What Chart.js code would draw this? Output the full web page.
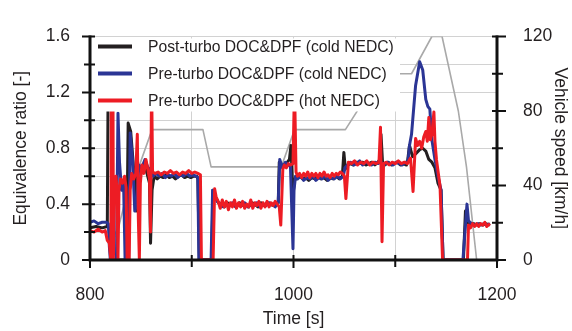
<!DOCTYPE html>
<html>
<head>
<meta charset="utf-8">
<script src="https://cdn.jsdelivr.net/npm/chart.js@4.4.1/dist/chart.umd.min.js"></script>
<style>
  html, body { margin: 0; padding: 0; background: #fff; }
  #wrap { width: 572px; height: 331px; }
</style>
</head>
<body>
<div id="wrap"><canvas id="c" width="572" height="331"></canvas></div>
<script>
// 시간[s], 당량비 — 그림에서 읽은 값
const POST_COLD = [
  [800,.23],[806,.24],[812,.23],[817,.24],[818,1.5],[821,1.5],[822,0],[836,0],[837.5,.98],[840,.92],
  [844,.55],[845.5,.35],[847,.67],[850,.64],[853,.69],[856,.62],[858.5,.55],[859.5,.12],[861,.5],[863,.6],
  [866,.58],[869,.6],[872,.59],[875,.61],[878,.59],[881,.6],[884,.58],[887,.6],[890,.61],[893,.59],
  [896,.6],[899,.59],[902,.6],[905,.6],[906,.58],[907.5,0],[919.5,0],[921,.5],[923,.46],[926,.41],
  [929,.4],[932,.38],[935,.41],[938,.39],[941,.4],[944,.38],[947,.41],[950,.39],[953,.4],[956,.38],
  [959,.41],[962,.4],[965,.38],[968,.41],[971,.39],[974,.41],[977,.4],[980,.39],[983,.4],[985,.41],
  [986,.7],[988,.68],[991,.68],[994,.7],[996,.72],[997.5,.82],[999.5,.45],[1001,.58],[1003,.58],[1006,.6],
  [1009,.58],[1012,.59],[1015,.57],[1018,.59],[1021,.58],[1024,.6],[1027,.58],[1030,.59],[1033,.57],[1036,.59],
  [1039,.58],[1042,.6],[1045,.58],[1048,.6],[1049.5,.77],[1051,.65],[1053,.68],[1056,.69],[1059,.68],[1062,.7],
  [1065,.69],[1068,.7],[1071,.68],[1074,.69],[1077,.7],[1080,.68],[1083,.7],[1085,.72],[1086,.9],[1087.5,.7],
  [1090,.68],[1093,.7],[1096,.68],[1099,.69],[1102,.7],[1105,.68],[1108,.69],[1111,.68],[1112,.7],[1114,.82],
  [1117,.74],[1120,.76],[1124,.79],[1127,.8],[1130,.78],[1133,.72],[1136,.7],[1139,.66],[1142,.55],[1145,.5],
  [1147,0],[1167,0],[1169,.35],[1171,.27],[1174,.25],[1177,.26],[1180,.25],[1183,.26],[1186,.25],[1189,.26],[1193,.25]
];

const PRE_COLD = [
  [800,.27],[804,.28],[808,.26],[812,.27],[816,.27],[818,.26],[819,.1],[820,0],[826,0],[827.5,1.05],
  [829,.7],[831,.5],[833,.55],[834.5,0],[838,0],[839.5,.91],[842,.7],[844,.35],[846,.4],[848,.68],
  [851,.66],[854,.72],[857,.66],[860,.65],[862,.6],[865,.62],[868,.6],[871,.62],[874,.59],[877,.61],
  [880,.6],[883,.62],[886,.59],[889,.61],[892,.6],[895,.62],[898,.6],[901,.61],[904,.6],[906,.59],
  [907,0],[919,0],[920.5,.5],[922,.46],[925,.42],[928,.4],[931,.38],[934,.4],[937,.39],[940,.41],
  [943,.38],[946,.4],[949,.39],[952,.41],[955,.38],[958,.4],[961,.39],[964,.41],[967,.38],[970,.4],
  [973,.39],[976,.41],[979,.4],[982,.38],[985,.41],[986.5,.72],[989,.66],[992,.7],[995,.68],[997,.67],
  [999.5,.08],[1000.5,.5],[1002,.6],[1004,.58],[1007,.6],[1010,.57],[1013,.59],[1016,.58],[1019,.6],[1022,.57],
  [1025,.59],[1028,.58],[1031,.6],[1034,.57],[1037,.59],[1040,.58],[1043,.6],[1046,.58],[1049,.6],[1050.5,.66],
  [1053,.68],[1056,.7],[1059,.68],[1062,.69],[1065,.71],[1068,.68],[1071,.7],[1074,.69],[1077,.68],[1080,.7],
  [1083,.69],[1086,.7],[1089,.68],[1092,.7],[1095,.69],[1098,.68],[1101,.7],[1104,.69],[1107,.68],[1110,.7],
  [1112.5,.7],[1114,.82],[1116,.9],[1120,1.25],[1124,1.42],[1127,1.36],[1130,1.15],[1132,1.1],[1134,1.08],[1136,.86],
  [1139,.72],[1142,.6],[1145,.5],[1147,0],[1166.5,0],[1170.5,.4],[1172,.28],[1175,.26],[1178,.25],[1181,.26],
  [1184,.25],[1187,.26],[1190,.25],[1193,.26]
];

const PRE_HOT = [
  [800,.21],[804,.2],[808,.22],[812,.2],[815,.21],[817,.14],[819,.12],[820.5,0],[821,1.5],[822.5,1.5],
  [823,0],[824,.55],[825.5,.6],[826.5,.5],[827.5,0],[828.5,.5],[830,.58],[832,.55],[834,.6],[835.5,.52],
  [836.5,0],[838.5,0],[839.5,.5],[841,.62],[843,.58],[845,.62],[846.5,.9],[847.5,.3],[848.5,0],[849.5,.55],
  [851,.68],[853,.62],[855,.72],[857,.64],[858.5,.58],[859.5,.2],[860.5,1.3],[861.5,.63],[864,.62],[867,.63],
  [870,.61],[873,.63],[876,.62],[879,.64],[882,.62],[885,.63],[888,.61],[891,.63],[894,.62],[897,.64],
  [900,.62],[903,.63],[906,.62],[908.5,.61],[909.5,0],[921,0],[922.5,.51],[924,.45],[926,.42],[928,.37],
  [930,.43],[932,.38],[934,.42],[936,.36],[938,.41],[940,.38],[942,.43],[944,.37],[946,.41],[948,.38],
  [950,.42],[952,.37],[954,.4],[956,.38],[958,.43],[960,.37],[962,.41],[964,.39],[966,.42],[968,.37],
  [970,.41],[972,.38],[974,.42],[976,.38],[978,.41],[980,.39],[982,.42],[984,.4],[986,.38],[987.5,.25],
  [989.5,.65],[991,.68],[993,.66],[995,.69],[997,.68],[999.5,.69],[1001,1.25],[1002.5,.63],[1004,.6],[1006,.62],
  [1008,.59],[1010,.62],[1012,.6],[1014,.63],[1016,.59],[1018,.62],[1020,.6],[1022,.62],[1024,.59],[1026,.62],
  [1028,.6],[1030,.63],[1032,.6],[1034,.61],[1036,.59],[1038,.62],[1040,.6],[1042,.62],[1044,.61],[1046,.63],
  [1048,.62],[1050,.6],[1051.5,.44],[1054,.7],[1057,.69],[1060,.71],[1063,.68],[1066,.7],[1069,.69],[1072,.71],
  [1075,.68],[1078,.7],[1081,.69],[1084,.7],[1085.5,.95],[1087,.13],[1088.5,.69],[1091,.7],[1094,.68],[1097,.7],
  [1100,.69],[1103,.71],[1106,.69],[1109,.7],[1112,.69],[1115,.73],[1117.5,.49],[1120,.87],[1122,.82],[1124,.85],
  [1126,.8],[1128,.88],[1130,.92],[1131.5,.85],[1133,1.02],[1134.5,.86],[1136,.9],[1138,1.06],[1139,.85],[1140.5,.72],
  [1144,.53],[1146.5,0],[1171,0],[1172,.25],[1174,.23],[1176,.26],[1178,.24],[1180,.26],[1182,.24],[1184,.26],
  [1186,.25],[1188,.27],[1190,.24],[1193,.26]
];

// 차속 [km/h] (NEDC EUDC 구간)
const SPEED = [
  [800,0],[820,0],[825,15],[827,15],[836,35],[838,35],[846,50],[848,50],[861,70],[911,70],
  [919,50],[988,50],[1001,70],[1051,70],[1086,100],[1116,100],[1136,120],[1146,120],[1162,80],[1170,50],
  [1180,0],[1193,0]
];

const LEGEND_LABELS = [
  'Post-turbo DOC&DPF (cold NEDC)',
  'Pre-turbo DOC&DPF (cold NEDC)',
  'Pre-turbo DOC&DPF (hot NEDC)',
];
const X_LABELS = [800, 1000, 1200];
const Y_LABELS = [0, 0.4, 0.8, 1.2, 1.6];
const Y2_LABELS = [0, 40, 80, 120];

const TEXT = '#231f20';
const GRID = '#d2d2d2';
const FONT = 'Arial, "Liberation Sans", sans-serif';
const COLORS = ['#231f20', '#2b3595', '#ed1c24'];

const toXY = arr => arr.map(p => ({ x: p[0], y: p[1] }));
const isLabel = (v, list) => list.some(l => Math.abs(l - v) < 1e-6);

// 범례를 플롯 안쪽 좌상단에 흰 배경으로 그림, 축선/눈금은 양쪽으로 튀어나오게
const framePlugin = {
  id: 'frame',
  afterDatasetsDraw(chart) {
    const { ctx, chartArea: ca } = chart;
    ctx.save();
    ctx.fillStyle = '#fff';
    ctx.fillRect(ca.left + 4, ca.top + 2, 306, 73);
    ctx.font = '15.7px ' + FONT;
    ctx.textBaseline = 'middle';
    LEGEND_LABELS.forEach((lab, i) => {
      const y = ca.top + 10 + i * 27;
      ctx.strokeStyle = COLORS[i];
      ctx.lineWidth = 4;
      ctx.beginPath();
      ctx.moveTo(ca.left + 8, y);
      ctx.lineTo(ca.left + 42, y);
      ctx.stroke();
      ctx.fillStyle = TEXT;
      ctx.fillText(lab, ca.left + 58, y + 1);
    });
    ctx.restore();
  },
  afterDraw(chart) {
    const { ctx, chartArea: ca, scales } = chart;
    ctx.save();
    ctx.strokeStyle = '#111';
    ctx.lineWidth = 3;
    ctx.beginPath();
    ctx.moveTo(ca.left, ca.top - 1); ctx.lineTo(ca.left, ca.bottom);
    ctx.lineTo(ca.right, ca.bottom); ctx.lineTo(ca.right, ca.top - 1);
    ctx.stroke();
    ctx.lineWidth = 2;
    ctx.beginPath();
    scales.x.ticks.forEach(t => {
      const px = scales.x.getPixelForValue(t.value);
      const out = isLabel(t.value, X_LABELS) ? 8 : 7;
      ctx.moveTo(px, ca.bottom - 5); ctx.lineTo(px, ca.bottom + out);
    });
    scales.y.ticks.forEach(t => {
      const py = scales.y.getPixelForValue(t.value);
      const out = isLabel(t.value, Y_LABELS) ? 8 : 6;
      ctx.moveTo(ca.left - out, py); ctx.lineTo(ca.left + 5, py);
    });
    scales.y2.ticks.forEach(t => {
      const py = scales.y2.getPixelForValue(t.value);
      const out = isLabel(t.value, Y2_LABELS) ? 9 : 6;
      ctx.moveTo(ca.right - 5, py); ctx.lineTo(ca.right + out, py);
    });
    ctx.stroke();
    ctx.restore();
  }
};

const tickFont = { family: FONT, size: 17.5 };
const titleFont = { family: FONT, size: 17.5 };

const line = (label, data, color, width, order, axis) => ({
  label, data: toXY(data), borderColor: color, backgroundColor: color,
  borderWidth: width, pointRadius: 0, tension: 0, order, yAxisID: axis,
  borderJoinStyle: 'round',
});

new Chart(document.getElementById('c'), {
  type: 'line',
  data: {
    datasets: [
      line(LEGEND_LABELS[2], PRE_HOT, COLORS[2], 3, 0, 'y'),
      line(LEGEND_LABELS[1], PRE_COLD, COLORS[1], 3, 1, 'y'),
      line(LEGEND_LABELS[0], POST_COLD, COLORS[0], 3, 2, 'y'),
      line('Vehicle speed', SPEED, '#a9a9a9', 1.6, 3, 'y2'),
    ],
  },
  options: {
    responsive: false,
    animation: false,
    layout: { padding: { top: 15, left: 0, right: 0, bottom: 0 } },
    plugins: { legend: { display: false }, tooltip: { enabled: false } },
    scales: {
      x: {
        type: 'linear', min: 800, max: 1200,
        ticks: {
          stepSize: 100, padding: 25, color: TEXT, font: tickFont, maxRotation: 0, autoSkip: false,
          callback: v => isLabel(v, X_LABELS) ? String(v) : '',
        },
        grid: { color: GRID, drawTicks: false },
        border: { display: false },
        title: { display: true, text: 'Time [s]', color: TEXT, font: titleFont, padding: { top: 1, bottom: 1 } },
        afterFit: s => { s.height = 71; },
      },
      y: {
        position: 'left', min: 0, max: 1.6,
        ticks: {
          stepSize: 0.2, padding: 20, color: TEXT, font: tickFont,
          callback: v => isLabel(v, Y_LABELS) ? String(Math.round(v * 10) / 10) : '',
        },
        grid: { color: GRID, drawTicks: false },
        border: { display: false },
        title: { display: true, text: 'Equivalence ratio [-]', color: TEXT, font: titleFont, padding: { top: 11, bottom: 11 } },
        afterFit: s => { s.width = 90; },
      },
      y2: {
        position: 'right', min: 0, max: 120,
        ticks: {
          stepSize: 20, padding: 26, color: TEXT, font: tickFont,
          callback: v => isLabel(v, Y2_LABELS) ? String(v) : '',
        },
        grid: { drawOnChartArea: false, drawTicks: false },
        border: { display: false },
        title: { display: true, text: 'Vehicle speed [km/h]', color: TEXT, font: titleFont, padding: { top: 2, bottom: 2 } },
        afterFit: s => { s.width = 75; },
      },
    },
  },
  plugins: [framePlugin],
});
</script>
</body>
</html>
